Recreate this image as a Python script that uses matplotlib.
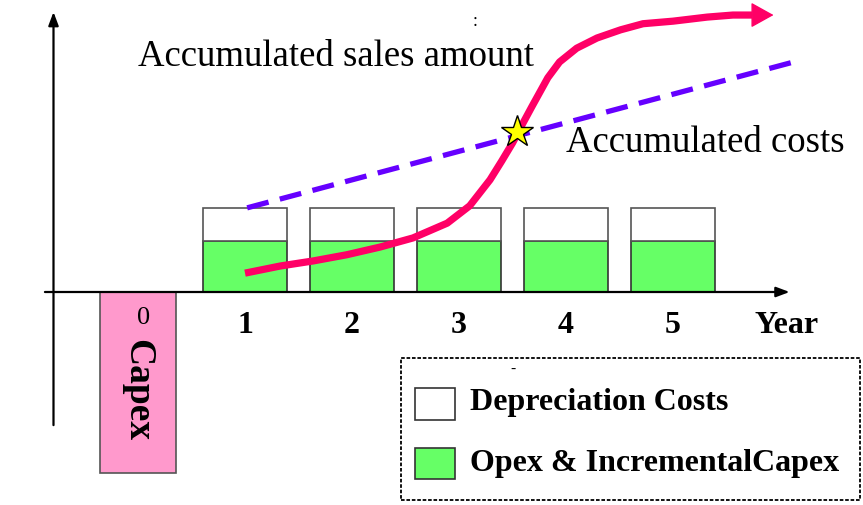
import matplotlib
matplotlib.use("Agg")
import matplotlib.pyplot as plt
from matplotlib.patches import Rectangle

plt.rcParams['font.family'] = ['Liberation Serif', 'DejaVu Serif']

# yearly cost blocks
years = [1, 2, 3, 4, 5]
opex = [1.0, 1.0, 1.0, 1.0, 1.0]
depreciation = [0.65, 0.65, 0.65, 0.65, 0.65]
capex_year = 0
capex = -3.55
year_labels = ['1', '2', '3', '4', '5']

# accumulated costs (straight dashed line)
cost_x = [1.02, 6.2]
cost_y = [1.65, 4.55]

# accumulated sales amount (S curve)
sales_x = [1.00, 1.33, 1.64, 1.95, 2.26, 2.57, 2.89, 3.10, 3.29, 3.40, 3.50,
           3.59, 3.68, 3.73, 3.83, 3.94, 4.10, 4.29, 4.51, 4.72, 5.00, 5.32,
           5.56, 5.74]
sales_y = [0.37, 0.51, 0.61, 0.73, 0.88, 1.06, 1.35, 1.69, 2.20, 2.57, 2.92,
           3.28, 3.63, 3.82, 4.20, 4.51, 4.78, 4.98, 5.14, 5.26, 5.31, 5.39,
           5.43, 5.43]
sales_tip = (5.94, 5.43)
break_even = (3.54, 3.13)

fig = plt.figure(figsize=(8.63, 5.05), dpi=100)
ax = fig.add_axes([0, 0, 1, 1])
ax.set_xlim(-1.29, 6.776)
ax.set_ylim(-4.176, 5.725)
ax.axis('off')

# axes with arrow heads
ax.annotate('', xy=(-0.79, 5.49), xytext=(-0.79, -2.61),
            arrowprops=dict(arrowstyle='-|>,head_length=0.8,head_width=0.3',
                            color='black', lw=1.6, shrinkA=0, shrinkB=0))
ax.annotate('', xy=(6.09, 0), xytext=(-0.87, 0),
            arrowprops=dict(arrowstyle='-|>,head_length=0.8,head_width=0.3',
                            color='black', lw=1.6, shrinkA=0, shrinkB=0))

ax.bar(years, opex, width=0.785, color='#66FF66', edgecolor='#333333', lw=1.2, zorder=2)
ax.bar(years, depreciation, bottom=opex, width=0.785, color='white',
       edgecolor='#555555', lw=1.2, zorder=2)
ax.bar(capex_year, capex, width=0.71, color='#FF99CC', edgecolor='#555555', lw=1.2, zorder=2)

ax.plot(cost_x, cost_y, color='#6600FF', lw=3.8, dashes=(4.2, 2.2), zorder=3)
ax.plot(sales_x, sales_y, color='#FF0066', lw=5.2, solid_capstyle='butt',
        solid_joinstyle='round', zorder=4)
ax.annotate('', xy=sales_tip, xytext=(sales_x[-1], sales_y[-1]),
            arrowprops=dict(arrowstyle='-|>,head_length=0.72,head_width=0.4',
                            mutation_scale=20, color='#FF0066', lw=1,
                            shrinkA=0, shrinkB=0), zorder=4)
ax.plot(*break_even, marker='*', ms=24, color='#FFFF00', mec='black', mew=1, zorder=5)

for x, lab in zip(years, year_labels):
    ax.text(x, -0.65, lab, ha='center', va='center', fontsize=23, fontweight='bold')
ax.text(6.065, -0.65, 'Year', ha='center', va='center', fontsize=23, fontweight='bold')
ax.text(0.05, -0.5, '0', ha='center', va='center', fontsize=19)
ax.text(0.0, -1.92, 'Capex', ha='center', va='center', fontsize=27,
        fontweight='bold', rotation=-90)

ax.text(1.85, 4.62, 'Accumulated sales amount', ha='center', va='center', fontsize=26.5)
ax.text(5.30, 2.92, 'Accumulated costs', ha='center', va='center', fontsize=26.5)
ax.text(3.15, 5.3, ':', ha='center', va='center', fontsize=13)

# legend box
ax.add_patch(Rectangle((0.4647, 0.0099), 0.532, 0.281, transform=ax.transAxes,
                       fill=False, ec='black', lw=1.3, ls=(0, (2, 1)), zorder=6))
ax.text(0.594, 0.269, '-', transform=ax.transAxes, ha='center', va='center', fontsize=11)
ax.add_patch(Rectangle((0.481, 0.168), 0.046, 0.063, transform=ax.transAxes,
                       fc='white', ec='#333333', lw=1.2, zorder=6))
ax.add_patch(Rectangle((0.481, 0.051), 0.046, 0.062, transform=ax.transAxes,
                       fc='#66FF66', ec='#333333', lw=1.2, zorder=6))
ax.text(0.545, 0.202, 'Depreciation Costs', transform=ax.transAxes,
        ha='left', va='center', fontsize=23, fontweight='bold')
ax.text(0.545, 0.083, 'Opex & IncrementalCapex', transform=ax.transAxes,
        ha='left', va='center', fontsize=23, fontweight='bold')

fig.savefig('out.png', dpi=100)
